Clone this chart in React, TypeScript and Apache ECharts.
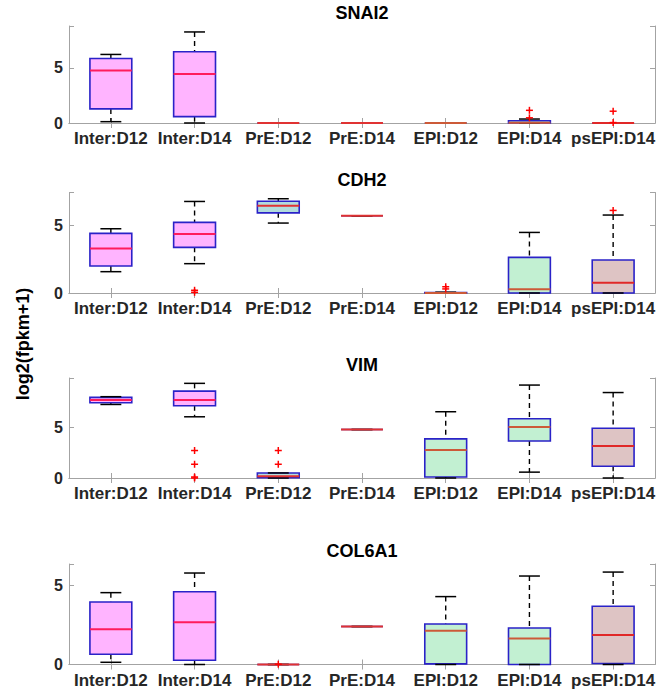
import React, { useEffect, useRef } from 'react';
import * as echarts from 'echarts';

const categories = ['Inter:D12', 'Inter:D14', 'PrE:D12', 'PrE:D14', 'EPI:D12', 'EPI:D14', 'psEPI:D14'];

// [low whisker, Q1, median, Q3, high whisker] per category
const snai2Stats = [
  [0.12, 1.28, 4.76, 5.85, 6.22],
  [0, 0.58, 4.45, 6.46, 8.26],
  [0, 0, 0, 0, 0],
  [0, 0, 0, 0, 0],
  [0, 0, 0, 0, 0],
  [0, 0, 0.03, 0.2, 0.36],
  [0, 0, 0, 0, 0],
];
const snai2Outliers = [[5, 1.15], [5, 0.47], [6, 1.07], [6, 0.04]];

const cdh2Stats = [
  [1.57, 1.99, 3.28, 4.39, 4.73],
  [2.16, 3.36, 4.34, 5.2, 6.74],
  [5.15, 5.9, 6.42, 6.76, 6.94],
  [5.69, 5.69, 5.69, 5.69, 5.69],
  [0, 0, 0, 0.04, 0.06],
  [0, 0, 0.27, 2.62, 4.46],
  [0, 0, 0.76, 2.43, 5.74],
];
const cdh2Outliers = [[1, 0.2], [1, 0.05], [4, 0.46], [4, 0.3], [6, 6.08]];

const vimStats = [
  [7.28, 7.45, 7.72, 7.98, 8.05],
  [6.06, 7.15, 7.72, 8.6, 9.37],
  [0, 0.03, 0.17, 0.5, 0.5],
  [4.8, 4.8, 4.8, 4.8, 4.8],
  [0, 0.1, 2.78, 3.87, 6.56],
  [0.58, 3.67, 5.06, 5.87, 9.2],
  [0, 1.17, 3.16, 4.93, 8.46],
];
const vimOutliers = [[1, 2.72], [1, 1.36], [1, 0.1], [1, 0], [2, 2.72], [2, 1.36]];

const col6a1Stats = [
  [0.14, 0.65, 2.23, 3.95, 4.54],
  [0, 0.27, 2.67, 4.6, 5.78],
  [0, 0, 0, 0, 0],
  [2.4, 2.4, 2.4, 2.4, 2.4],
  [0, 0.04, 2.14, 2.56, 4.29],
  [0, 0, 1.64, 2.31, 5.59],
  [0, 0.06, 1.87, 3.68, 5.84],
];
const col6a1Outliers = [[2, 0.02]];

const geneNames = ['SNAI2', 'CDH2', 'VIM', 'COL6A1'];
const yMaxValues = [8.8, 7.4, 9.9, 6.35];
const yTicks = [0, 5];
const yLabel = 'log2(fpkm+1)';

const fillColors = ['#ffb4ff', '#ffb4ff', '#b2dcdc', '#b2dcdc', '#c2f0d2', '#c2f0d2', '#dec4c4'];
const medianColors = ['#ff1c5c', '#ff1c5c', '#e03232', '#e03232', '#cc5a38', '#cc5a38', '#e02828'];

const FONT = '"Liberation Sans", Arial, Helvetica, sans-serif';
const AXIS_COLOR = '#a3a3a3';
const TICK_TEXT = '#262626';

const gridTops = [26, 192.5, 378, 564];
const gridHeights = [97, 100.5, 100, 100.5];
const GRID_LEFT = 69;
const GRID_WIDTH = 586;

const boxRender = (params: any, api: any) => {
  const ci = api.value(0);
  const low = api.value(1);
  const q1 = api.value(2);
  const med = api.value(3);
  const q3 = api.value(4);
  const high = api.value(5);
  const bw = api.size([1, 0])[0];
  const cx = api.coord([ci, 0])[0];
  const y = (v: number) => api.coord([ci, v])[1];
  const hb = bw * 0.25;
  const hc = bw * 0.125;
  const dashStyle = { stroke: '#000000', lineWidth: 1.4, lineDash: [5, 4] };
  const capStyle = { stroke: '#000000', lineWidth: 1.5 };
  return {
    type: 'group',
    children: [
      { type: 'line', shape: { x1: cx, y1: y(high), x2: cx, y2: y(q3) }, style: dashStyle },
      { type: 'line', shape: { x1: cx, y1: y(q1), x2: cx, y2: y(low) }, style: dashStyle },
      {
        type: 'rect',
        shape: { x: cx - hb, y: y(q3), width: 2 * hb, height: y(q1) - y(q3) },
        style: { fill: fillColors[ci], stroke: '#2a22c8', lineWidth: 1.6 },
      },
      { type: 'line', shape: { x1: cx - hc, y1: y(high), x2: cx + hc, y2: y(high) }, style: capStyle },
      { type: 'line', shape: { x1: cx - hc, y1: y(low), x2: cx + hc, y2: y(low) }, style: capStyle },
      {
        type: 'line',
        shape: { x1: cx - hb, y1: y(med), x2: cx + hb, y2: y(med) },
        style: { stroke: medianColors[ci], lineWidth: 2 },
      },
    ],
  };
};

const outlierRender = (params: any, api: any) => {
  const p = api.coord([api.value(0), api.value(1)]);
  const s = 3.5;
  const st = { stroke: '#ff0000', lineWidth: 1.5 };
  return {
    type: 'group',
    children: [
      { type: 'line', shape: { x1: p[0] - s, y1: p[1], x2: p[0] + s, y2: p[1] }, style: st },
      { type: 'line', shape: { x1: p[0], y1: p[1] - s, x2: p[0], y2: p[1] + s }, style: st },
    ],
  };
};

export default function App() {
  const ref = useRef<HTMLDivElement>(null);
  useEffect(() => {
    if (!ref.current) return;
    const chart = echarts.init(ref.current, null, { renderer: 'svg' });
    const allStats = [snai2Stats, cdh2Stats, vimStats, col6a1Stats];
    const allOutliers = [snai2Outliers, cdh2Outliers, vimOutliers, col6a1Outliers];

    const grids: any[] = [];
    const xAxes: any[] = [];
    const yAxes: any[] = [];
    const series: any[] = [];
    const graphics: any[] = [];

    geneNames.forEach((name, i) => {
      grids.push({ left: GRID_LEFT, top: gridTops[i], width: GRID_WIDTH, height: gridHeights[i], containLabel: false });
      const xBase = {
        type: 'category',
        data: categories,
        gridIndex: i,
        boundaryGap: true,
        axisLine: { show: true, lineStyle: { color: AXIS_COLOR, width: 1 } },
        axisTick: { show: true, inside: true, length: 5, alignWithLabel: true, lineStyle: { color: AXIS_COLOR } },
        splitLine: { show: false },
      };
      xAxes.push({
        ...xBase,
        position: 'bottom',
        axisLabel: {
          show: true,
          interval: 0,
          margin: 7,
          color: TICK_TEXT,
          fontFamily: FONT,
          fontWeight: 'bold',
          fontSize: 17,
        },
      });
      xAxes.push({ ...xBase, position: 'top', axisLabel: { show: false } });
      const yBase = {
        type: 'value',
        gridIndex: i,
        min: 0,
        max: yMaxValues[i],
        interval: 5,
        axisLine: { show: true, lineStyle: { color: AXIS_COLOR, width: 1 } },
        axisTick: { show: true, inside: true, length: 5, lineStyle: { color: AXIS_COLOR } },
        splitLine: { show: false },
      };
      yAxes.push({
        ...yBase,
        position: 'left',
        axisLabel: {
          show: true,
          margin: 6,
          color: TICK_TEXT,
          fontFamily: FONT,
          fontWeight: 'bold',
          fontSize: 16,
          formatter: (v: number) => (yTicks.indexOf(v) >= 0 ? String(v) : ''),
        },
      });
      yAxes.push({ ...yBase, position: 'right', axisLabel: { show: false } });

      series.push({
        type: 'custom',
        xAxisIndex: i * 2,
        yAxisIndex: i * 2,
        renderItem: boxRender,
        encode: { x: 0, y: [1, 2, 3, 4, 5] },
        data: allStats[i].map((s, ci) => [ci, ...s]),
        z: 2,
      });
      series.push({
        type: 'custom',
        xAxisIndex: i * 2,
        yAxisIndex: i * 2,
        renderItem: outlierRender,
        encode: { x: 0, y: 1 },
        data: allOutliers[i],
        z: 3,
      });

      graphics.push({
        type: 'text',
        x: GRID_LEFT + GRID_WIDTH / 2,
        y: gridTops[i] - 13,
        style: {
          text: name,
          fill: '#000000',
          font: `bold 18px ${FONT}`,
          textAlign: 'center',
          textVerticalAlign: 'middle',
        },
      });
    });

    graphics.push({
      type: 'text',
      x: 23,
      y: 344,
      rotation: Math.PI / 2,
      style: {
        text: yLabel,
        fill: '#000000',
        font: `bold 18px ${FONT}`,
        textAlign: 'center',
        textVerticalAlign: 'middle',
      },
    });

    chart.setOption({
      animation: false,
      backgroundColor: '#ffffff',
      grid: grids,
      xAxis: xAxes,
      yAxis: yAxes,
      series,
      graphic: graphics,
    });
    return () => chart.dispose();
  }, []);
  return <div ref={ref} style={{ position: 'absolute', left: 0, top: 0, width: 669, height: 697 }} />;
}
